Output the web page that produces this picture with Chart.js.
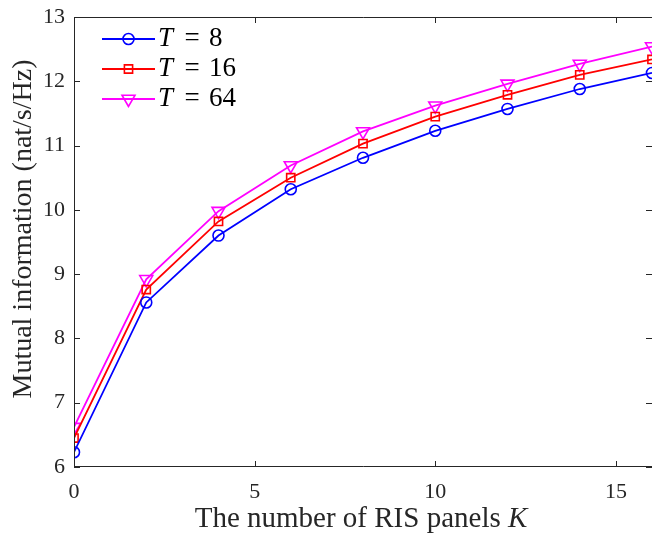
<!DOCTYPE html>
<html>
<head>
<meta charset="utf-8">
<script src="https://cdn.jsdelivr.net/npm/chart.js@4.4.0/dist/chart.umd.min.js"></script>
<style>
html, body { margin: 0; padding: 0; background: #fff; }
</style>
</head>
<body>
<canvas id="chart1" width="652" height="533"></canvas>
<script>
var panels = [0, 2, 4, 6, 8, 10, 12, 14, 16];
var miT8 = [6.23, 8.56, 9.60, 10.32, 10.81, 11.23, 11.57, 11.88, 12.13];
var miT16 = [6.45, 8.76, 9.82, 10.50, 11.03, 11.45, 11.79, 12.10, 12.34];
var miT64 = [6.62, 8.92, 9.98, 10.69, 11.22, 11.62, 11.96, 12.27, 12.54];
var seriesT = ['8', '16', '64'];
var xTicks = [0, 5, 10, 15];
var yTicks = [6, 7, 8, 9, 10, 11, 12, 13];
var xLabel = 'The number of RIS panels ';
var xLabelVar = 'K';
var yLabel = 'Mutual information (nat/s/Hz)';

var axisColor = '#262626';
var serif = '"Liberation Serif", "Times New Roman", serif';

function toPoints(vals) {
    return vals.map(function (v, i) { return { x: panels[i], y: v }; });
}

// box, inward ticks, axis titles and legend, matlab style
var matlabAxes = {
    id: 'matlabAxes',
    afterDraw: function (chart) {
        var ctx = chart.ctx;
        var a = chart.chartArea;
        var xs = chart.scales.x, ys = chart.scales.y;
        var tl = 6;
        ctx.save();
        ctx.strokeStyle = axisColor;
        ctx.lineWidth = 1;
        ctx.beginPath();
        // right edge of the box falls just outside the picture
        ctx.rect(a.left + 0.5, a.top + 0.5, a.right - a.left + 1, a.bottom - a.top - 1);
        xTicks.forEach(function (v) {
            var px = Math.round(xs.getPixelForValue(v)) + 0.5;
            ctx.moveTo(px, a.bottom); ctx.lineTo(px, a.bottom - tl);
            ctx.moveTo(px, a.top); ctx.lineTo(px, a.top + tl);
        });
        yTicks.forEach(function (v) {
            var py = Math.round(ys.getPixelForValue(v)) + 0.5;
            ctx.moveTo(a.left, py); ctx.lineTo(a.left + tl, py);
            ctx.moveTo(a.right, py); ctx.lineTo(a.right - tl, py);
        });
        ctx.stroke();

        // x title with italic K
        ctx.fillStyle = axisColor;
        ctx.textBaseline = 'alphabetic';
        ctx.textAlign = 'left';
        var fReg = '29px ' + serif, fIt = 'italic 29px ' + serif;
        ctx.font = fReg;
        var w1 = ctx.measureText(xLabel).width;
        ctx.font = fIt;
        var w2 = ctx.measureText(xLabelVar).width;
        var x0 = (a.left + a.right) / 2 - 2 - (w1 + w2) / 2;
        ctx.font = fReg;
        ctx.fillText(xLabel, x0, 527);
        ctx.font = fIt;
        ctx.fillText(xLabelVar, x0 + w1, 527);

        // y title
        ctx.save();
        ctx.translate(24, 229);
        ctx.rotate(-Math.PI / 2);
        ctx.textAlign = 'center';
        ctx.textBaseline = 'middle';
        ctx.font = '28px ' + serif;
        ctx.fillText(yLabel, 0, 0);
        ctx.restore();

        // legend
        chart.data.datasets.forEach(function (ds, i) {
            var y = 39 + i * 30;
            ctx.strokeStyle = ds.borderColor;
            ctx.lineWidth = ds.borderWidth;
            ctx.beginPath();
            ctx.moveTo(102, y); ctx.lineTo(155, y);
            ctx.stroke();
            ctx.lineWidth = ds.pointBorderWidth;
            ctx.fillStyle = 'rgba(0,0,0,0)';
            Chart.helpers.drawPoint(ctx, {
                pointStyle: ds.pointStyle,
                radius: ds.pointRadius,
                rotation: ds.pointRotation || 0,
                borderWidth: ds.pointBorderWidth
            }, 128.5, y);
            ctx.fillStyle = '#000';
            ctx.textBaseline = 'alphabetic';
            ctx.font = 'italic 27px ' + serif;
            ctx.textAlign = 'left';
            ctx.fillText('T', 158, y + 7);
            ctx.font = '27px ' + serif;
            ctx.textAlign = 'center';
            ctx.fillText('=', 192, y + 7);
            ctx.textAlign = 'left';
            ctx.fillText(seriesT[i], 209, y + 7);
        });
        ctx.restore();
    }
};

var ctx = document.getElementById('chart1');
var chart = new Chart(ctx, {
    type: 'line',
    data: {
        datasets: [{
            label: 'T = ' + seriesT[0],
            data: toPoints(miT8),
            borderColor: '#0000ff',
            backgroundColor: 'rgba(0,0,0,0)',
            borderWidth: 1.8,
            pointStyle: 'circle',
            pointRadius: 5.5,
            pointBorderWidth: 1.6,
            pointBackgroundColor: 'rgba(0,0,0,0)',
            pointBorderColor: '#0000ff'
        }, {
            label: 'T = ' + seriesT[1],
            data: toPoints(miT16),
            borderColor: '#ff0000',
            backgroundColor: 'rgba(0,0,0,0)',
            borderWidth: 1.8,
            pointStyle: 'rect',
            pointRadius: 5.8,
            pointBorderWidth: 1.6,
            pointBackgroundColor: 'rgba(0,0,0,0)',
            pointBorderColor: '#ff0000'
        }, {
            label: 'T = ' + seriesT[2],
            data: toPoints(miT64),
            borderColor: '#ff00ff',
            backgroundColor: 'rgba(0,0,0,0)',
            borderWidth: 1.8,
            pointStyle: 'triangle',
            pointRotation: 180,
            pointRadius: 7.5,
            pointBorderWidth: 1.6,
            pointBackgroundColor: 'rgba(0,0,0,0)',
            pointBorderColor: '#ff00ff'
        }]
    },
    options: {
        responsive: false,
        animation: false,
        devicePixelRatio: 1,
        layout: { autoPadding: false, padding: { top: 17, right: 0, left: 0, bottom: 0 } },
        plugins: { legend: { display: false }, tooltip: { enabled: false } },
        elements: { line: { tension: 0 } },
        scales: {
            x: {
                type: 'linear',
                min: 0,
                max: 16,
                afterBuildTicks: function (s) { s.ticks = xTicks.map(function (v) { return { value: v }; }); },
                afterFit: function (s) { s.height = 66; s.paddingLeft = 0; s.paddingRight = 0; },
                grid: { display: false, drawTicks: false },
                border: { display: false },
                ticks: { color: axisColor, padding: 12, font: { family: serif, size: 22 } }
            },
            y: {
                type: 'linear',
                min: 6,
                max: 13,
                afterBuildTicks: function (s) { s.ticks = yTicks.map(function (v) { return { value: v }; }); },
                afterFit: function (s) { s.width = 74; s.paddingTop = 0; s.paddingBottom = 0; },
                grid: { display: false, drawTicks: false },
                border: { display: false },
                ticks: { color: axisColor, padding: 9, font: { family: serif, size: 22 } }
            }
        }
    },
    plugins: [matlabAxes]
});
</script>
</body>
</html>
